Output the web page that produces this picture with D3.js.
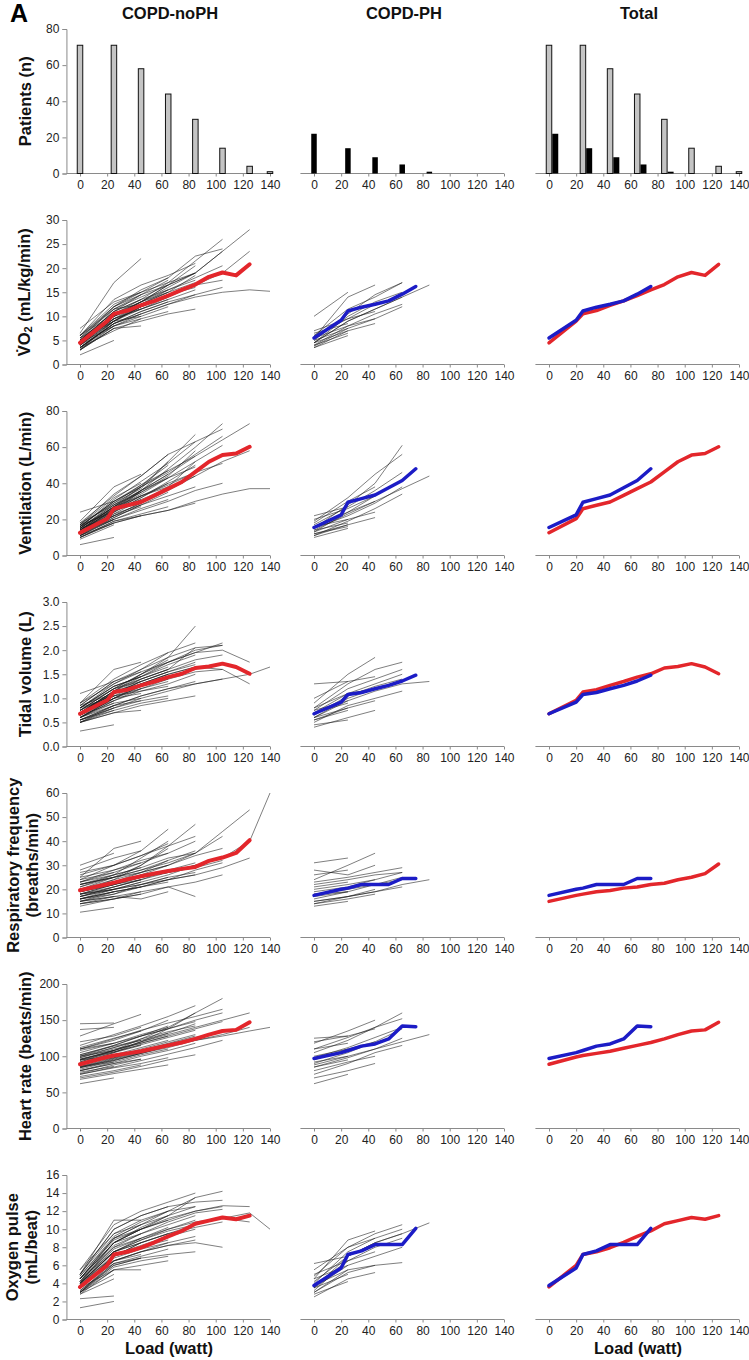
<!DOCTYPE html>
<html><head><meta charset="utf-8">
<script src="https://cdn.jsdelivr.net/npm/d3@7"></script>
<style>body{margin:0;background:#fff} text{font-family:"Liberation Sans",Arial,sans-serif}</style>
</head><body><svg id="c" width="749" height="1360"></svg>
<script>
// ---------- data ----------
const columnTitles = ["COPD-noPH", "COPD-PH", "Total"];
const xTicks = [0, 20, 40, 60, 80, 100, 120, 140];
const stageLoads = [0, 25, 45, 65, 85, 105, 125, 140];
const barLoadsNoPH = [0, 25, 45, 65, 85, 105, 125, 140];
const barLoadsPH = [0, 25, 45, 65, 85];
const patientsNoPH = [71, 71, 58, 44, 30, 14, 4, 1];
const patientsPH = [22, 14, 9, 5, 1];
const meanLoadsNoPH = [0, 20, 25, 35, 45, 55, 65, 75, 85, 95, 105, 115, 125];
const meanLoadsPH = [0, 20, 25, 35, 45, 55, 65, 75];

// VO2
const vo2NoPH = [[3.2,7.5],[5.0,9.0],[2.0,5.0],[6.0,10.5],[4.0,8.0],
 [6.5,17.0,22.0],[4.5,9.5,11.5],[3.0,7.5,8.0],[5.0,11.0,13.5],[3.5,8.5,10.5],[7.5,13.0,15.0],
 [4.0,9.0,11.5,14.0],[5.5,11.5,14.5,17.5],[3.0,8.0,10.0,12.0],[6.0,12.5,15.0,18.0],[4.5,10.0,12.5,15.0],[3.5,7.0,9.5,11.0],
 [4.0,10.0,13.0,16.5,20.5],[5.5,12.0,15.0,17.0,19.0],[3.0,7.5,9.0,10.5,11.5],[4.5,9.5,12.0,14.5,16.0],[6.0,13.5,16.5,18.5,21.0],[3.5,8.5,11.0,13.0,14.5],[5.0,11.0,13.5,15.5,17.5],
 [4.0,10.5,13.5,17.0,21.5,26.0],[5.0,11.0,14.5,16.5,19.0,23.5],[3.5,8.5,10.5,12.5,14.5,16.0],[4.5,9.0,12.0,14.0,16.5,17.5],[6.0,12.0,15.5,18.0,22.5,24.0],
 [4.5,10.0,13.0,16.0,19.0,23.5,28.0],[4.0,9.0,12.0,14.5,16.5,19.0,23.5],
 [3.5,8.0,10.5,12.5,14.0,15.0,15.5,15.2],
 [4.5,9.5],[3.5,8.5],[5.5,10.0],
 [4.0,10.0,12.0],[5.0,12.0,14.5],[3.0,9.0,10.0],[4.5,8.0,9.5],[6.0,11.5,12.5],
 [4.0,9.5,12.5,15.5],[5.0,10.5,13.0,16.5],[3.5,8.5,11.0,13.0],[4.5,10.5,11.5,13.5],[5.5,9.0,12.0,14.5],
 [4.5,10.5,13.0,15.0,17.0],[3.5,9.0,12.5,15.0,18.5],[5.0,9.5,11.5,13.5,15.5],[4.0,11.5,14.0,16.5,19.0],
 [5.0,10.0,13.0,15.5,18.0,20.5]];
const vo2PH = [[10.0,15.0],[6.5,8.5],[4.5,7.0],[3.5,6.0],
 [5.5,14.0,16.5],[4.0,8.0,9.5],[6.0,9.5,12.5],
 [5.0,10.5,14.5,17.0],[4.5,9.0,11.5,14.0],[3.8,7.5,9.5,12.0],[6.0,11.5,14.0,17.0],
 [4.5,9.0,11.5,14.0,16.5],
 [5.0,7.5],[4.0,6.5],[7.0,9.5,11.0],[4.5,10.0,13.0,15.0],[5.5,8.0,10.5,12.5],[3.5,7.0,8.5]];
const vo2MeanNoPH = [4.5,9.0,10.5,11.2,12.3,13.2,14.3,15.5,16.6,18.2,19.1,18.5,20.8];
const vo2MeanPH = [5.5,9.2,11.1,11.9,12.5,13.2,14.6,16.2];

// Ventilation
const ventNoPH = [[9,17],[13,20],[6,10],[24,30],[11,18],
 [19,38,45],[14,25,31],[10,19,22],[16,30,38],[12,22,27],[17,32,40],
 [13,24,32,40],[15,29,39,50],[11,20,26,31],[18,33,44,56],[14,26,34,43],[10,19,23,27],
 [14,27,38,52,67],[16,30,39,47,55],[10,18,22,25,29],[12,23,31,37,44],[17,34,44,56,63],[11,21,28,33,38],[15,28,36,43,49],
 [13,26,36,48,60,73],[15,28,38,46,56,66],[11,20,25,30,36,40],[14,25,33,39,46,51],[16,31,41,51,63,70],
 [14,27,36,45,55,64,73],[12,22,29,36,44,52,58],
 [10,18,22,25,30,34,37,37],
 [15,22],[12,20],[17,24],
 [14,27,33],[18,28,35],[11,23,28],[16,25,29],[13,24,36],
 [15,27,36,45],[13,25,33,38],[16,30,38,47],[12,21,28,35],[17,29,37,52],
 [14,24,32,41,50],[13,26,35,44,58],[16,26,33,40,46],[12,22,29,38,52],
 [15,27,35,43,52,61]];
const ventPH = [[22,27],[14,18],[10,15],[12,16],
 [18,30,38],[13,20,24],[16,24,30],
 [15,28,40,61],[17,27,36,46],[11,19,26,34],[19,32,45,56],
 [14,23,30,37,44],
 [16,20],[12,17],[20,26,33],[13,24,33,42],[15,22,29,38],[11,17,21]];
const ventMeanNoPH = [12.6,20.4,25.9,27.8,29.6,33.3,37.0,40.7,46.3,51.9,55.6,56.5,60.2];
const ventMeanPH = [15.5,22.5,29.5,31.5,33.5,37.5,41.5,48.0];

// Tidal volume
const tidalNoPH = [[0.55,0.75],[0.7,0.95],[0.32,0.45],[1.1,1.35],[0.6,0.85],
 [0.9,1.6,1.75],[0.65,1.05,1.2],[0.5,0.7,0.75],[0.8,1.25,1.45],[0.6,0.9,1.0],[0.85,1.35,1.55],
 [0.65,1.0,1.25,1.4],[0.75,1.2,1.5,1.8],[0.55,0.8,0.95,1.05],[0.9,1.3,1.6,1.95],[0.7,1.1,1.3,1.5],[0.5,0.75,0.9,1.0],
 [0.7,1.15,1.5,1.85,2.5],[0.8,1.25,1.45,1.7,1.9],[0.5,0.7,0.85,0.95,1.05],[0.6,0.95,1.15,1.3,1.5],[0.9,1.4,1.7,1.95,2.15],[0.55,0.85,1.05,1.2,1.35],[0.75,1.1,1.35,1.55,1.7],
 [0.7,1.15,1.45,1.75,2.0,2.1],[0.8,1.3,1.55,1.75,1.95,2.15],[0.5,0.8,1.0,1.15,1.3,1.4],[0.6,0.95,1.2,1.4,1.55,1.6],[0.85,1.35,1.6,1.85,2.05,2.1],
 [0.75,1.2,1.5,1.75,1.95,2.0,1.75],[0.65,1.0,1.3,1.5,1.65,1.6,1.3],
 [0.55,0.85,1.05,1.2,1.3,1.4,1.5,1.65],
 [0.65,0.9],[0.8,1.05],[0.55,0.8],
 [0.7,1.15,1.3],[0.6,1.0,1.1],[0.75,1.2,1.35],[0.5,0.85,0.95],[0.85,1.1,1.25],
 [0.7,1.15,1.4,1.6],[0.6,1.0,1.2,1.35],[0.8,1.25,1.45,1.65],[0.65,1.05,1.15,1.25],[0.75,1.1,1.35,1.55],
 [0.7,1.1,1.35,1.55,1.75],[0.6,1.0,1.25,1.45,1.6],[0.8,1.2,1.4,1.6,2.05],[0.65,1.05,1.3,1.5,1.65],
 [0.7,1.1,1.4,1.6,1.8,1.9]];
const tidalPH = [[1.3,1.35],[0.6,0.8],[0.45,0.55],[0.75,0.95],
 [0.9,1.5,1.85],[0.55,0.8,0.95],[0.7,1.1,1.2],
 [0.8,1.3,1.6,1.75],[0.65,1.05,1.25,1.4],[0.5,0.85,1.0,1.15],[0.75,1.2,1.4,1.6],
 [0.6,0.95,1.15,1.3,1.35],
 [0.7,0.9],[0.55,0.75],[1.0,1.35,1.45],[0.6,1.0,1.2,1.35],[0.8,1.1,1.3,1.5],[0.4,0.6,0.75]];
const tidalMeanNoPH = [0.68,0.96,1.13,1.18,1.27,1.35,1.44,1.51,1.63,1.66,1.72,1.65,1.51];
const tidalMeanPH = [0.68,0.92,1.08,1.12,1.2,1.27,1.36,1.48];

// Respiratory frequency
const rfNoPH = [[22,25],[15,17],[10.5,12.5],[30,35],[18,20],
 [25,37,40],[17,21,24],[14,17,19],[28,33,36],[20,23,25],[13,16,18],
 [19,24,30,37],[24,30,36,45],[15,17,16,19],[21,26,33,40],[16,20,22,25],[27,30,34,39],
 [20,25,30,38,47],[17,21,24,28,31],[14,16,18,21,17],[23,28,32,35,40],[18,20,23,26,30],[26,30,34,38,42],[15,18,22,25,27],
 [18,22,26,30,34,37],[22,25,28,31,35,42],[14,16,19,21,23,26],[20,23,26,28,29,32],[16,18,21,24,28,31],
 [19,23,27,30,35,44,53],[17,20,22,24,26,29,33],
 [18,21,24,27,30,33,40,60],
 [24,27],[20,22],[16,19],
 [22,26,29],[19,22,24],[17,20,23],[23,27,31],[15,19,21],
 [18,22,25,28],[22,25,27,32],[20,24,27,30],[16,19,21,23],[25,28,31,35],
 [19,22,25,27,29],[21,25,28,32,36],[16,19,21,24,26],[23,26,29,33,35],
 [19,22,25,27,30,33]];
const rfPH = [[31,33],[26,28],[13,15],[18,19],
 [24,30,35],[15,17,20],[20,22,24],
 [16,19,22,25],[19,21,24,27],[14,17,19,21],[22,24,26,27],
 [15,17,19,22,24],
 [21,23],[17,19],[28,26,30],[18,20,22,24],[23,25,27,29],[14,16,18]];
const rfMeanNoPH = [19.6,22.1,22.8,24.2,25.4,26.6,27.6,28.5,29.3,31.8,33.2,35.1,40.4];
const rfMeanTotalNoPH = [15,17.5,18,19,19.5,20.5,21,22,22.5,24,25,26.5,30.5];
const rfMeanPH = [17.5,20,20.5,22,22,22,24.5,24.5];

// Heart rate
const hrNoPH = [[145,146],[137,140],[62,70],[100,108],[85,92],
 [128,145,158],[92,105,115],[72,80,88],[112,125,135],[80,90,96],[120,128,140],
 [95,108,120,132],[110,122,135,150],[75,84,90,98],[100,115,128,142],[85,97,106,115],[68,76,82,88],
 [90,105,120,138,160],[108,118,128,138,148],[70,78,86,95,102],[98,112,122,132,145],[115,130,142,155,170],[80,90,100,108,118],[88,100,110,120,130],
 [92,108,124,140,160,180],[102,115,128,138,150,160],[75,85,94,103,112,122],[86,98,108,117,126,134],[110,124,136,146,155,165],
 [95,108,120,130,140,150,160],[84,95,104,112,122,130,140],
 [90,100,108,115,122,128,135,140],
 [95,100],[78,86],[110,118],
 [88,100,108],[102,114,122],[76,88,96],[96,106,116],[84,96,105],
 [90,102,112,122],[98,110,118,128],[80,92,102,110],[105,118,130,140],[86,94,104,114],
 [94,106,116,126,136],[82,94,104,114,124],[100,112,124,134,142],[90,98,108,118,128],
 [96,108,118,128,138,148]];
const hrPH = [[125,128],[100,110],[62,75],[85,95],
 [118,135,150],[80,92,100],[95,110,120],
 [105,122,140,160],[90,105,120,138],[75,90,105,115],[110,126,140,152],
 [88,100,110,120,130],
 [110,118],[92,100],[120,128,138],[98,112,126,140],[85,98,110,125],[70,80,90]];
const hrMeanNoPH = [89,99,101,104,107,111,115,119,124,130,135,136.5,147];
const hrMeanPH = [97,105,108,114,117,124,142,141];

// Oxygen pulse
const o2NoPH = [[2.3,2.6],[3.5,5.5],[1.3,2.0],[4.0,7.0],[2.8,4.5],
 [5.0,11.0,11.0],[3.5,7.0,8.0],[3.0,5.5,5.5],[4.5,8.5,9.5],[3.2,6.0,6.8],[5.5,9.5,10.5],
 [4.0,7.5,8.5,9.5],[4.5,9.0,10.5,11.5],[3.0,5.8,6.5,7.0],[5.0,10.0,11.5,12.5],[3.8,7.0,8.0,8.8],[2.8,5.5,6.0,6.5],
 [4.5,8.5,10.0,11.5,13.5],[5.0,9.5,11.0,12.0,12.5],[3.0,6.0,6.8,7.2,7.5],[4.0,7.5,8.8,9.8,10.5],[5.5,10.5,12.0,13.0,14.0],[3.5,6.5,7.5,8.2,8.8],[4.2,8.0,9.5,10.5,11.5],
 [4.5,9.0,10.5,12.0,13.5,14.2],[4.0,8.5,10.0,11.0,12.0,12.5],[3.0,6.5,7.5,8.2,8.5,8.0],[3.5,7.0,8.5,9.5,10.2,10.8],[5.0,10.0,11.5,12.5,13.0,13.2],
 [4.2,8.5,10.0,11.2,12.0,12.6,12.5],[3.8,7.5,9.0,10.0,10.8,11.2,10.8],
 [3.5,7.0,8.5,9.5,10.5,11.2,11.8,10.0],
 [3.0,5.0],[4.5,7.5],[3.8,6.2],
 [4.0,7.5,8.5],[3.5,6.5,7.2],[4.8,9.0,10.0],[3.0,6.2,6.8],[4.2,8.0,9.0],
 [4.0,7.8,9.0,10.2],[3.5,6.8,7.8,8.5],[4.5,8.8,10.0,11.0],[3.2,6.2,7.0,7.8],[4.8,9.2,10.8,12.0],
 [4.0,7.5,8.8,10.0,11.0],[3.5,6.5,7.5,8.5,9.2],[4.5,8.5,10.2,11.5,12.5],[3.8,7.2,8.2,9.2,10.0],
 [4.2,8.2,9.5,10.8,11.8,12.2]];
const o2PH = [[6.2,7.0],[4.5,6.0],[2.8,4.2],[3.5,5.0],
 [4.5,8.8,9.8],[3.0,5.5,6.0],[3.8,6.5,7.5],
 [4.0,7.5,9.0,10.0],[3.2,6.5,8.0,9.0],[3.0,5.2,6.0,6.3],[4.8,8.0,9.5,10.5],
 [3.5,7.0,8.5,9.5,10.7],
 [5.0,6.5],[3.8,5.5],[5.5,8.0,9.0],[4.2,7.0,8.5,9.5],[3.5,6.0,7.0,8.0],[2.5,4.5,5.2]];
const o2MeanNoPH = [3.6,6.0,7.2,7.5,7.95,8.55,9.2,9.8,10.6,10.95,11.3,11.1,11.5];
const o2MeanPH = [3.76,5.7,7.2,7.6,8.3,8.3,8.3,10.1];

// ---------- layout ----------
const svg = d3.select("#c");
const colX0 = [80, 314, 549];
const pxPer = 190 / 140;
const rowZero = i => 173.5 + i * 191;
const plotH = 144.5;
const RED = "#e3262b", BLUE = "#1c1cc6";

function xScale(c) { return d3.scaleLinear().domain([0, 140]).range([colX0[c], colX0[c] + 140 * pxPer]); }
function yScale(r, max) { return d3.scaleLinear().domain([0, max]).range([rowZero(r), rowZero(r) - plotH]); }

function drawXAxis(c, r) {
  const x = xScale(c), y0 = rowZero(r);
  svg.append("line").attr("x1", x(-10)).attr("x2", x(140)).attr("y1", y0).attr("y2", y0)
    .attr("stroke", "#8a8a8a").attr("stroke-width", 1);
  const ax = d3.axisBottom(x).tickValues(xTicks).tickSize(3).tickPadding(4);
  const a = svg.append("g").attr("transform", `translate(0,${y0})`).call(ax);
  a.select(".domain").remove();
  a.selectAll("line").attr("stroke", "#8a8a8a");
  a.selectAll("text").attr("font-size", 12).attr("fill", "#222").attr("font-family", '"Liberation Sans",Arial,sans-serif');
}
function drawYAxis(r, y, ticks, fmt) {
  const x0 = xScale(0)(-10);
  const ax = d3.axisLeft(y).tickValues(ticks).tickSize(4).tickPadding(3).tickFormat(fmt);
  const a = svg.append("g").attr("transform", `translate(${x0},0)`).call(ax);
  a.select(".domain").attr("stroke", "#8a8a8a");
  a.selectAll("line").attr("stroke", "#8a8a8a");
  a.selectAll("text").attr("font-size", 12).attr("fill", "#222").attr("font-family", '"Liberation Sans",Arial,sans-serif');
}

// Titles
svg.append("text").attr("x", 10).attr("y", 22).attr("font-size", 25).attr("font-weight", "bold").text("A");
columnTitles.forEach((t, c) => {
  svg.append("text").attr("x", colX0[c] + 90).attr("y", 19).attr("text-anchor", "middle")
    .attr("font-size", 16.5).attr("font-weight", "bold").attr("fill", "#111").text(t);
});

// ---------- row 0: bars ----------
{
  const y = yScale(0, 80);
  const bw = 5.5;
  [0, 1, 2].forEach(c => drawXAxis(c, 0));
  drawYAxis(0, y, [0, 20, 40, 60, 80], d3.format("d"));
  const x0 = xScale(0), x1 = xScale(1), x2 = xScale(2);
  svg.append("g").selectAll("rect").data(patientsNoPH).join("rect")
    .attr("x", (d, i) => x0(barLoadsNoPH[i]) - bw / 2).attr("width", bw)
    .attr("y", d => y(d)).attr("height", d => y(0) - y(d))
    .attr("fill", "#c4c4c4").attr("stroke", "#111").attr("stroke-width", 1);
  svg.append("g").selectAll("rect").data(patientsPH).join("rect")
    .attr("x", (d, i) => x1(barLoadsPH[i]) - bw / 2).attr("width", bw)
    .attr("y", d => y(d)).attr("height", d => y(0) - y(d))
    .attr("fill", "#000");
  svg.append("g").selectAll("rect").data(patientsNoPH).join("rect")
    .attr("x", (d, i) => x2(barLoadsNoPH[i]) - bw / 2).attr("width", bw)
    .attr("y", d => y(d)).attr("height", d => y(0) - y(d))
    .attr("fill", "#c4c4c4").attr("stroke", "#111").attr("stroke-width", 1);
  svg.append("g").selectAll("rect").data(patientsPH).join("rect")
    .attr("x", (d, i) => x2(barLoadsPH[i]) + bw / 2 + 0.5).attr("width", bw + 0.5)
    .attr("y", d => y(d)).attr("height", d => y(0) - y(d))
    .attr("fill", "#000");
}

// ---------- line rows ----------
const rows = [
  { max: 30, ticks: [0,5,10,15,20,25,30], fmt: d3.format("d"), noPH: vo2NoPH, PH: vo2PH, mNo: vo2MeanNoPH, mPH: vo2MeanPH, mNoTot: vo2MeanNoPH },
  { max: 80, ticks: [0,20,40,60,80], fmt: d3.format("d"), noPH: ventNoPH, PH: ventPH, mNo: ventMeanNoPH, mPH: ventMeanPH, mNoTot: ventMeanNoPH },
  { max: 3, ticks: [0,0.5,1,1.5,2,2.5,3], fmt: d3.format(".1f"), noPH: tidalNoPH, PH: tidalPH, mNo: tidalMeanNoPH, mPH: tidalMeanPH, mNoTot: tidalMeanNoPH },
  { max: 60, ticks: [0,10,20,30,40,50,60], fmt: d3.format("d"), noPH: rfNoPH, PH: rfPH, mNo: rfMeanNoPH, mPH: rfMeanPH, mNoTot: rfMeanTotalNoPH },
  { max: 200, ticks: [0,50,100,150,200], fmt: d3.format("d"), noPH: hrNoPH, PH: hrPH, mNo: hrMeanNoPH, mPH: hrMeanPH, mNoTot: hrMeanNoPH },
  { max: 16, ticks: [0,2,4,6,8,10,12,14,16], fmt: d3.format("d"), noPH: o2NoPH, PH: o2PH, mNo: o2MeanNoPH, mPH: o2MeanPH, mNoTot: o2MeanNoPH }
];

rows.forEach((R, k) => {
  const r = k + 1;
  const y = yScale(r, R.max);
  [0, 1, 2].forEach(c => drawXAxis(c, r));
  drawYAxis(r, y, R.ticks, R.fmt);
  const indiv = (c) => d3.line().x((d, i) => xScale(c)(stageLoads[i])).y(d => y(d));
  const meanNo = (c) => d3.line().x((d, i) => xScale(c)(meanLoadsNoPH[i])).y(d => y(d));
  const meanPH = (c) => d3.line().x((d, i) => xScale(c)(meanLoadsPH[i])).y(d => y(d));
  svg.append("g").selectAll("path").data(R.noPH).join("path").attr("d", indiv(0))
    .attr("fill", "none").attr("stroke", "#1a1a1a").attr("stroke-width", 0.75).attr("stroke-opacity", 0.75);
  svg.append("g").selectAll("path").data(R.PH).join("path").attr("d", indiv(1))
    .attr("fill", "none").attr("stroke", "#1a1a1a").attr("stroke-width", 0.75).attr("stroke-opacity", 0.75);
  svg.append("path").datum(R.mNo).attr("d", meanNo(0)).attr("fill", "none").attr("stroke", RED)
    .attr("stroke-width", 4).attr("stroke-linejoin", "round").attr("stroke-linecap", "round");
  svg.append("path").datum(R.mPH).attr("d", meanPH(1)).attr("fill", "none").attr("stroke", BLUE)
    .attr("stroke-width", 3.5).attr("stroke-linejoin", "round").attr("stroke-linecap", "round");
  svg.append("path").datum(R.mNoTot).attr("d", meanNo(2)).attr("fill", "none").attr("stroke", RED)
    .attr("stroke-width", 3.5).attr("stroke-linejoin", "round").attr("stroke-linecap", "round");
  svg.append("path").datum(R.mPH).attr("d", meanPH(2)).attr("fill", "none").attr("stroke", BLUE)
    .attr("stroke-width", 3.5).attr("stroke-linejoin", "round").attr("stroke-linecap", "round");
});

// ---------- y labels ----------
function ylabel(r, lines, xs) {
  const cy = rowZero(r) - plotH / 2;
  lines.forEach((ln, i) => {
    const t = svg.append("text").attr("transform", `translate(${xs[i]},${cy}) rotate(-90)`)
      .attr("text-anchor", "middle").attr("dominant-baseline", "central")
      .attr("font-size", 16.5).attr("font-weight", "bold").attr("fill", "#111");
    if (typeof ln === "string") t.text(ln); else ln(t);
  });
}
ylabel(0, ["Patients (n)"], [25]);
ylabel(1, [t => {
  t.append("tspan").text("V\u0307O");
  t.append("tspan").attr("font-size", 11).attr("dy", 4).text("2");
  t.append("tspan").attr("dy", -4).text(" (mL/kg/min)");
}], [24]);
ylabel(2, ["Ventilation (L/min)"], [25]);
ylabel(3, ["Tidal volume (L)"], [25]);
ylabel(4, ["Respiratory frequency", "(breaths/min)"], [13, 32]);
ylabel(5, ["Heart rate (beats/min)"], [25]);
ylabel(6, ["Oxygen pulse", "(mL/beat)"], [12, 31]);

// x labels
[0, 2].forEach(c => {
  svg.append("text").attr("x", colX0[c] + 89).attr("y", 1354).attr("text-anchor", "middle")
    .attr("font-size", 16.5).attr("font-weight", "bold").attr("fill", "#111").text("Load (watt)");
});
</script></body></html>
